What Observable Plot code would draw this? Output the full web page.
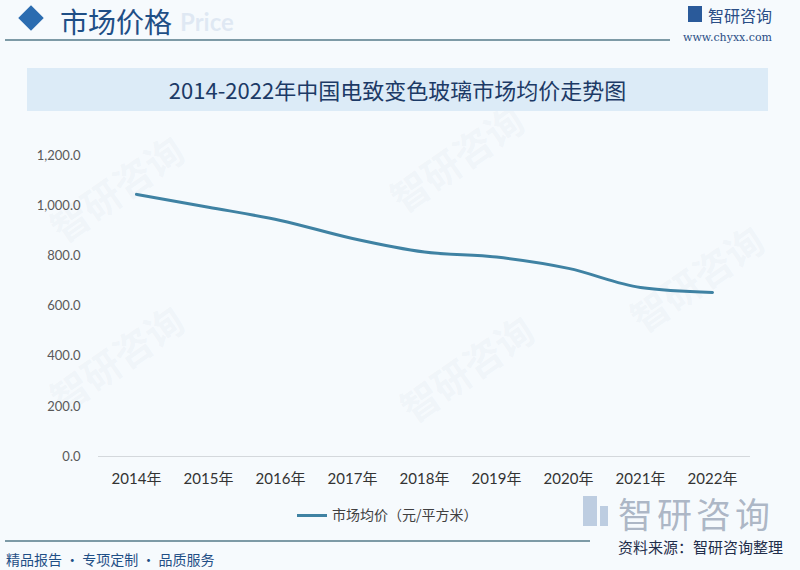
<!DOCTYPE html>
<html>
<head>
<meta charset="utf-8">
<script src="https://cdn.jsdelivr.net/npm/d3@7"></script>
<script src="https://cdn.jsdelivr.net/npm/@observablehq/plot@0.6"></script>
<style>
  html, body { margin: 0; padding: 0; }
  body { width: 800px; height: 570px; position: relative; overflow: hidden; background: #f6fafd; font-family: "Noto Sans CJK SC", "Noto Sans", sans-serif; }
  .abs { position: absolute; }
  #chart { position: absolute; left: 0; top: 130px; }
  .wm { position: absolute; color: rgba(150,170,200,0.08); font-size: 38px; transform: rotate(-35deg); white-space: nowrap; font-weight: 700; pointer-events: none; }
</style>
</head>
<body>
<script>
const years = ["2014年","2015年","2016年","2017年","2018年","2019年","2020年","2021年","2022年"];
const prices = [1045, 994, 941, 869, 815, 795, 750, 674, 654];
const yTicks = [0, 200, 400, 600, 800, 1000, 1200];
const seriesName = "市场均价（元/平方米）";
const titleText = "2014-2022年中国电致变色玻璃市场均价走势图";
</script>

<!-- faint watermarks -->
<div class="wm" style="left:40px; top:160px;">智研咨询</div>
<div class="wm" style="left:380px; top:130px;">智研咨询</div>
<div class="wm" style="left:40px; top:330px;">智研咨询</div>
<div class="wm" style="left:390px; top:340px;">智研咨询</div>
<div class="wm" style="left:620px; top:250px;">智研咨询</div>

<!-- header -->
<div class="abs" style="left:22px; top:9px; width:18px; height:18px; background:#2b6cb0; transform: rotate(45deg);"></div>
<div class="abs" style="left:180px; top:8px; font-size:24px; line-height:28px; color:rgba(180,200,225,0.35); font-family:Lato, sans-serif; font-weight:700;">Price</div>
<div class="abs" style="left:60px; top:5px; font-size:28px; line-height:32px; color:#1f4f86;">市场价格</div>
<div class="abs" style="left:5px; top:39px; width:665px; height:2px; background:#7d9aa6;"></div>
<div class="abs" style="left:688px; top:6px; width:14px; height:16px; background:#2a5a9a;"></div>
<div class="abs" style="left:708px; top:3px; font-size:16px; color:#2a4e86;">智研咨询</div>
<div class="abs" style="left:683px; top:31px; font-size:11px; color:#2a4e86; font-family:'DejaVu Serif', serif;">www.chyxx.com</div>

<!-- title box -->
<div class="abs" style="left:27px; top:68px; width:741px; height:43px; background:#dcebf7;"></div>
<div class="abs" style="left:27px; top:68px; width:741px; height:43px; line-height:43px; text-align:center; font-size:22px; color:#1c3a66; font-weight:400;" id="title"></div>

<div id="chart"></div>

<!-- legend -->
<div class="abs" style="left:297px; top:514px; width:30px; height:3px; background:#3f82a3;"></div>
<div class="abs" style="left:332px; top:504px; font-size:14px; color:#404040;" id="legend"></div>

<!-- bottom-right logo watermark -->
<div class="abs" style="left:583px; top:496px; width:14px; height:30px; background:rgba(120,150,190,0.45);"></div>
<div class="abs" style="left:600px; top:506px; width:8px; height:20px; background:rgba(120,150,190,0.45);"></div>
<div class="abs" style="left:618px; top:487px; font-size:35px; color:rgba(110,125,150,0.55); letter-spacing:4px;">智研咨询</div>

<!-- footer -->
<div class="abs" style="left:5px; top:540px; width:585px; height:2px; background:#7d9aa6;"></div>
<div class="abs" style="left:618px; top:536px; font-size:15px; color:#1f2d4a;">资料来源：智研咨询整理</div>
<div class="abs" style="left:6px; top:549px; font-size:14px; color:#1f4f86;">精品报告 · 专项定制 · 品质服务</div>

<script>
document.getElementById("title").textContent = titleText;
document.getElementById("legend").textContent = seriesName;
const data = years.map((y, i) => ({year: y, price: prices[i]}));
const chart = Plot.plot({
  width: 800,
  height: 380,
  marginTop: 25,
  marginBottom: 54,
  marginLeft: 98,
  marginRight: 50,
  style: { background: "transparent", fontFamily: "Lato, 'Noto Sans CJK SC', sans-serif" },
  x: { type: "point", domain: years, padding: 0.5, label: null },
  y: { domain: [0, 1200], label: null },
  marks: [
    Plot.ruleY([0], { stroke: "#d4d8dc", strokeWidth: 1 }),
    Plot.axisY({ ticks: yTicks, tickFormat: d3.format(",.1f"), tickSize: 0, tickPadding: 18, fontSize: 13, fill: "#595959", label: null }),
    Plot.axisX({ tickSize: 0, tickPadding: 17, fontSize: 15, fill: "#333333", label: null }),
    Plot.line(data, { x: "year", y: "price", stroke: "#3f82a3", strokeWidth: 3, curve: "monotone-x" })
  ]
});
document.getElementById("chart").appendChild(chart);
</script>
</body>
</html>
